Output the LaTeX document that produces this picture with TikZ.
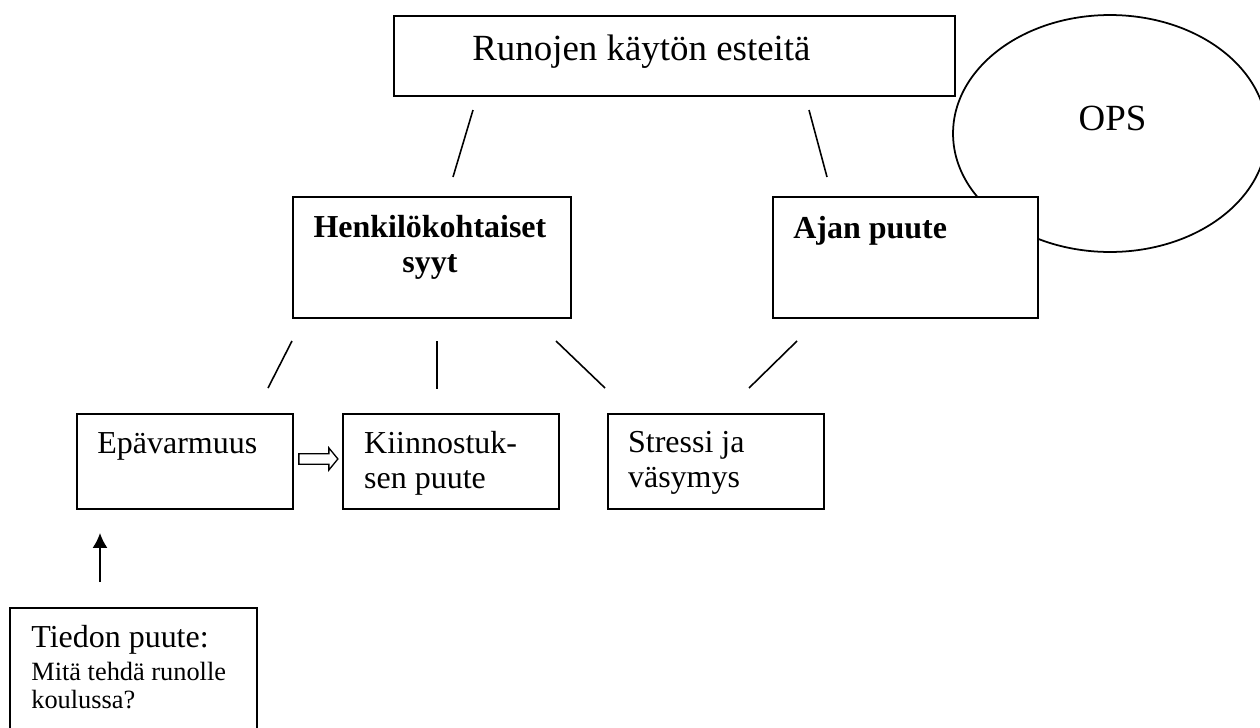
\documentclass[tikz,border=0pt]{standalone}
\usepackage{fontspec}
\setmainfont{Liberation Serif}
\usetikzlibrary{positioning, calc, shapes.geometric, arrows.meta}

\tikzset{
  box/.style={draw, line width=1.1pt, fill=white, inner sep=0pt, anchor=north west},
  bigtxt/.style={inner sep=0pt, font=\fontsize{21}{25}\selectfont},
  midtxt/.style={inner sep=0pt, align=left, font=\fontsize{18.2}{19.9}\selectfont},
  boldtxt/.style={inner sep=0pt, align=center, font=\bfseries\fontsize{18.2}{19.9}\selectfont},
  smalltxt/.style={inner sep=0pt, align=left, font=\fontsize{15}{15.9}\selectfont},
  link/.style={line width=0.9pt},
  hollow/.style={line width=0.75pt, line join=miter}
}

\begin{document}
\begin{tikzpicture}[x=0.02cm, y=-0.02cm]
  \useasboundingbox (0,0) rectangle (1260,727);

  % OPS (behind the boxes)
  \node[ellipse, draw, line width=1pt, inner sep=0pt, minimum width=6.28cm, minimum height=4.74cm] (ops) at (1110,133.5) {};
  \node[bigtxt] (ops-t) at ($(ops.center)+(2.5,-15.5)$) {OPS};

  % top level
  \node[box, minimum width=11.22cm, minimum height=1.6cm] (top) at (393,15) {};
  \node[bigtxt, anchor=base west] (top-t) at ($(top.north west)+(79,45)$) {Runojen käytön esteitä};

  % second level
  \node[box, minimum width=5.56cm, minimum height=2.42cm] (henk) at (292,196) {};
  \node[boldtxt, anchor=north] (henk-t) at ($(henk.north)+(-2,19)$) {Henkilökohtaiset\\syyt};
  \node[box, minimum width=5.3cm, minimum height=2.42cm] (ajan) at (772,196) {};
  \node[boldtxt, anchor=base west] (ajan-t) at ($(ajan.north west)+(21,42)$) {Ajan puute};

  % third level
  \node[box, minimum width=4.32cm, minimum height=1.9cm] (epa) at (76,413) {};
  \node[box, minimum width=4.32cm, minimum height=1.9cm, right=0.96cm of epa] (kiin) {};
  \node[box, minimum width=4.32cm, minimum height=1.9cm, right=0.94cm of kiin] (stres) {};
  \node[midtxt, anchor=base west] (epa-t) at ($(epa.north west)+(21,40)$) {Epävarmuus};
  \node[midtxt, anchor=north west] (kiin-t) at ($(kiin.north west)+(22,18)$) {Kiinnostuk-\\sen puute};
  \node[midtxt, anchor=north west] (stres-t) at ($(stres.north west)+(21,18)$) {Stressi ja\\väsymys};

  % Epävarmuus => Kiinnostuksen puute
  \draw[hollow] ($(epa.east)+(5,-7.8)$) -- ++(30,0) -- ++(0,-5.7) -- ++(9,11)
    -- ++(-9,11) -- ++(0,-5.7) -- ++(-30,0) -- cycle;

  % bottom note
  \node[box, minimum width=4.94cm, minimum height=2.8cm] (tieto) at (9,607) {};
  \node[midtxt, anchor=base west] (tieto-t) at ($(tieto.north west)+(22,40)$) {Tiedon puute:};
  \node[smalltxt, anchor=north west] (tieto-q) at ($(tieto.north west)+(22,55)$) {Mitä tehdä runolle\\koulussa?};

  % connectors
  \coordinate (l1a) at (473,110);
  \coordinate (l1b) at (453,177);
  \coordinate (l2a) at (809,110);
  \coordinate (l2b) at (827,177);
  \coordinate (l3a) at (292,341);
  \coordinate (l3b) at (268,388);
  \coordinate (l4a) at (437,341);
  \coordinate (l4b) at (437,389);
  \coordinate (l5a) at (556,341);
  \coordinate (l5b) at (605,388);
  \coordinate (l6a) at (797,341);
  \coordinate (l6b) at (749,388);
  \coordinate (upa) at (100,582);
  \coordinate (upb) at (100,533);
  \draw[link] (l1a) -- (l1b);
  \draw[link] (l2a) -- (l2b);
  \draw[link] (l3a) -- (l3b);
  \draw[link] (l4a) -- (l4b);
  \draw[link] (l5a) -- (l5b);
  \draw[link] (l6a) -- (l6b);
  \draw[link, -{Latex[length=8.5pt, width=8.5pt]}] (upa) -- (upb);
\end{tikzpicture}
\end{document}
